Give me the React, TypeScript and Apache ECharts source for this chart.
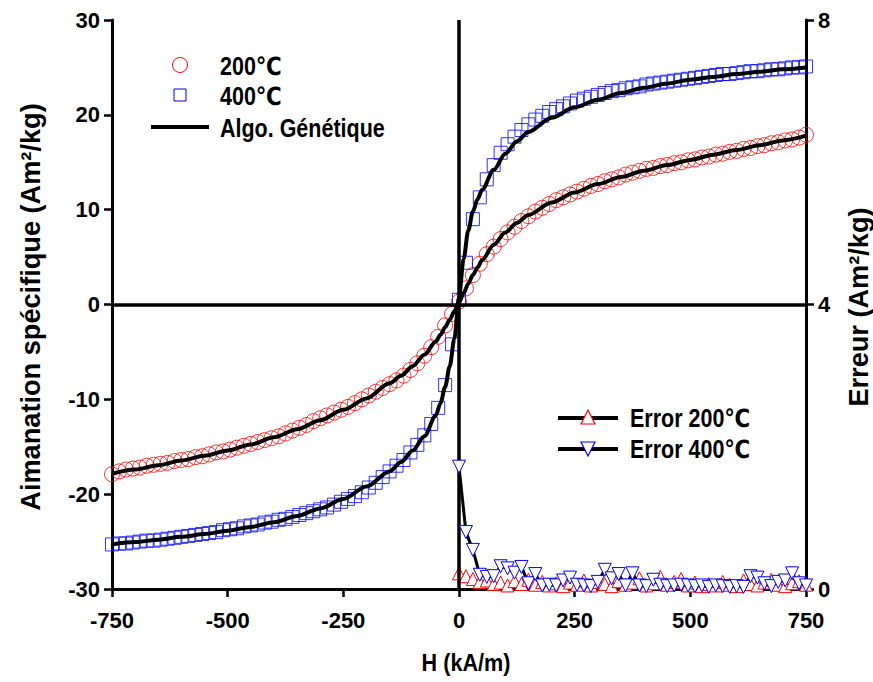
import React, { useEffect, useRef } from "react";
import * as echarts from "echarts";

const FONT = '"Liberation Sans", Arial, "DejaVu Sans", sans-serif';

// Field H (kA/m) for the measured loops
const fieldH = [
  -750, -735, -720, -705, -690, -675, -660, -645, -630, -615, -600, -585, -570, -555, -540, -525, -510,
  -495, -480, -465, -450, -435, -420, -405, -390, -375, -360, -345, -330, -315, -300, -285, -270, -255,
  -240, -225, -210, -195, -180, -165, -150, -135, -120, -105, -90, -75, -60, -45, -30, -15,
  0, 15, 30, 45, 60, 75, 90, 105, 120, 135, 150, 165, 180, 195, 210, 225, 240, 255, 270, 285, 300,
  315, 330, 345, 360, 375, 390, 405, 420, 435, 450, 465, 480, 495, 510, 525, 540, 555, 570, 585, 600,
  615, 630, 645, 660, 675, 690, 705, 720, 735, 750,
];

// Measured specific magnetization 200 °C (Am²/kg)
const m200 = [
  -17.9, -17.6, -17.4, -17.3, -17.2, -17.0, -16.9, -16.8, -16.7, -16.5, -16.4, -16.3, -16.1, -16.0, -15.8, -15.6, -15.5,
  -15.3, -15.1, -14.9, -14.7, -14.5, -14.3, -14.1, -13.9, -13.6, -13.3, -13.0, -12.7, -12.3, -12.0, -11.7, -11.4, -11.1,
  -10.8, -10.4, -10.0, -9.6, -9.2, -8.8, -8.4, -8.0, -7.5, -6.9, -6.2, -5.4, -4.5, -3.4, -2.2, -1.0,
  0.3, 1.7, 3.1, 4.3, 5.3, 6.1, 6.9, 7.6, 8.2, 8.8, 9.3, 9.8, 10.2, 10.6, 11.0, 11.3, 11.6, 11.9, 12.2, 12.5, 12.7,
  13.0, 13.2, 13.4, 13.7, 13.9, 14.1, 14.3, 14.4, 14.6, 14.7, 14.9, 15.0, 15.2, 15.3, 15.5, 15.6, 15.8, 15.9, 16.1, 16.2,
  16.4, 16.5, 16.7, 16.8, 17.0, 17.1, 17.3, 17.4, 17.6, 17.9,
];

// Measured specific magnetization 400 °C (Am²/kg)
const m400 = [
  -25.3, -25.2, -25.2, -25.1, -25.0, -24.9, -24.9, -24.8, -24.7, -24.6, -24.5, -24.4, -24.3, -24.2, -24.1, -24.0, -23.8,
  -23.7, -23.6, -23.4, -23.3, -23.2, -23.0, -22.9, -22.7, -22.6, -22.4, -22.2, -22.0, -21.8, -21.6, -21.4, -21.1, -20.8,
  -20.5, -20.2, -19.8, -19.3, -18.8, -18.2, -17.6, -17.0, -16.4, -15.6, -14.8, -13.8, -12.6, -10.9, -8.5, -4.2,
  0.5, 4.4, 9.0, 11.3, 13.2, 14.7, 16.0, 16.9, 17.7, 18.4, 19.0, 19.5, 19.9, 20.3, 20.6, 20.9, 21.2, 21.5, 21.7, 21.9, 22.1,
  22.3, 22.5, 22.6, 22.8, 22.9, 23.0, 23.2, 23.3, 23.4, 23.5, 23.6, 23.7, 23.8, 23.9, 24.0, 24.1, 24.2, 24.3, 24.3, 24.4,
  24.5, 24.6, 24.6, 24.7, 24.8, 24.8, 24.9, 25.0, 25.0, 25.1,
];

// Genetic-algorithm fitted curves
const fitH = [
  -750, -700, -650, -600, -550, -500, -450, -400, -350, -300, -250, -200, -150, -125, -100, -75, -50,
  -40, -30, -20, -10, 0, 10, 20, 30, 40, 50, 75, 100, 125, 150, 200, 250, 300, 350, 400, 450, 500,
  550, 600, 650, 700, 750,
];
const fit200 = [
  -17.85, -17.4, -16.95, -16.45, -15.95, -15.4, -14.75, -14.0, -13.15, -12.2, -11.1, -9.9, -8.3, -7.5, -6.5, -5.3, -3.9,
  -3.2, -2.4, -1.6, -0.7, 0.2, 1.2, 2.2, 3.1, 3.9, 4.7, 6.3, 7.6, 8.6, 9.45, 10.75, 11.8, 12.7, 13.45, 14.1, 14.7, 15.25,
  15.8, 16.3, 16.8, 17.3, 17.8,
];
const fit400 = [
  -25.3, -25.05, -24.8, -24.5, -24.2, -23.85, -23.45, -22.95, -22.3, -21.5, -20.5, -19.2, -17.6, -16.6, -15.4, -13.9, -11.7,
  -10.4, -8.7, -6.5, -3.6, 0.8, 4.8, 7.8, 9.8, 11.1, 12.1, 14.2, 15.9, 17.2, 18.2, 19.7, 20.8, 21.6, 22.3, 22.85, 23.3, 23.7,
  24.0, 24.3, 24.55, 24.8, 25.0,
];

// Fitting error (Am²/kg), right axis
const errH = [
  0, 15, 30, 45, 60, 75, 90, 105, 120, 135, 150, 165, 180, 195, 210, 225, 240, 255, 270, 285, 300,
  315, 330, 345, 360, 375, 390, 405, 420, 435, 450, 465, 480, 495, 510, 525, 540, 555, 570, 585, 600,
  615, 630, 645, 660, 675, 690, 705, 720, 735, 750,
];
const err200 = [
  0.22, 0.18, 0.14, 0.10, 0.12, 0.07, 0.09, 0.05, 0.11, 0.07, 0.13, 0.06, 0.10, 0.05, 0.08, 0.04, 0.09, 0.06, 0.12, 0.05, 0.10,
  0.07, 0.04, 0.11, 0.06, 0.09, 0.15, 0.05, 0.08, 0.17, 0.06, 0.10, 0.14, 0.05, 0.09, 0.04, 0.07, 0.05, 0.10, 0.06, 0.04,
  0.12, 0.07, 0.05, 0.09, 0.13, 0.06, 0.04, 0.08, 0.11, 0.06,
];
const err400 = [
  1.72, 0.80, 0.55, 0.20, 0.17, 0.18, 0.32, 0.29, 0.23, 0.31, 0.08, 0.21, 0.05, 0.06, 0.05, 0.12, 0.16, 0.06, 0.05, 0.04, 0.10,
  0.27, 0.15, 0.21, 0.05, 0.22, 0.05, 0.04, 0.13, 0.06, 0.04, 0.05, 0.06, 0.05, 0.04, 0.05, 0.03, 0.05, 0.04, 0.03, 0.04,
  0.03, 0.18, 0.16, 0.08, 0.04, 0.10, 0.12, 0.22, 0.08, 0.05,
];

const xTicks = { min: -750, max: 750, interval: 250 };
const yLeft = { min: -30, max: 30, interval: 10 };
const yRight = { min: 0, max: 8, interval: 4 };

const zip = (xs: number[], ys: number[]) => xs.map((x, i) => [x, ys[i]]);

export default function App() {
  const ref = useRef<HTMLDivElement>(null);
  useEffect(() => {
    if (!ref.current) return;
    const chart = echarts.init(ref.current, null, { renderer: "svg" });
    const axisText = { color: "#000", fontFamily: FONT, fontWeight: "bold" as const, fontSize: 22 };
    const axisLine = { onZero: false, lineStyle: { color: "#000", width: 3 } };
    const axisTick = { inside: false, length: 8, lineStyle: { color: "#000", width: 2.5 } };
    const legendText = (text: string, x: number, y: number) => ({
      type: "text", x, y, scaleX: 0.86,
      style: { text, fill: "#000", font: `bold 25px ${FONT}`, textAlign: "left", textVerticalAlign: "middle" },
    });
    chart.setOption({
      animation: false,
      backgroundColor: "#fff",
      grid: { left: 112, top: 20, width: 694, height: 569, containLabel: false },
      xAxis: {
        type: "value", ...xTicks,
        axisLine, axisTick,
        axisLabel: { ...axisText, margin: 20 },
        splitLine: { show: false },
      },
      yAxis: [
        {
          type: "value", position: "left", ...yLeft,
          axisLine, axisTick,
          axisLabel: { ...axisText, margin: 12 },
          splitLine: { show: false },
        },
        {
          type: "value", position: "right", ...yRight,
          axisLine, axisTick,
          axisLabel: { ...axisText, margin: 12 },
          splitLine: { show: false },
        },
      ],
      graphic: [
        { type: "circle", shape: { cx: 180, cy: 65, r: 7.5 }, style: { fill: "none", stroke: "#ff0000", lineWidth: 1 } },
        legendText("200℃", 220, 66),
        { type: "rect", shape: { x: 174, y: 89, width: 12, height: 12 }, style: { fill: "none", stroke: "#0000ff", lineWidth: 1 } },
        legendText("400℃", 220, 96),
        { type: "line", shape: { x1: 151, y1: 127, x2: 209, y2: 127 }, style: { stroke: "#000", lineWidth: 4 } },
        legendText("Algo. Génétique", 220, 128),
        { type: "line", shape: { x1: 558, y1: 418, x2: 618, y2: 418 }, style: { stroke: "#000", lineWidth: 4 } },
        { type: "polygon", shape: { points: [[588, 410], [581, 424], [595, 424]] }, style: { fill: "#fff", stroke: "#ff0000", lineWidth: 1.2 } },
        legendText("Error 200℃", 630, 418),
        { type: "line", shape: { x1: 558, y1: 449, x2: 618, y2: 449 }, style: { stroke: "#000", lineWidth: 4 } },
        { type: "polygon", shape: { points: [[581, 442], [595, 442], [588, 456]] }, style: { fill: "#fff", stroke: "#0000ff", lineWidth: 1.2 } },
        legendText("Error 400℃", 630, 449),
        {
          type: "text", x: 30, y: 307, rotation: Math.PI / 2, scaleX: 0.97,
          style: { text: "Aimanation spécifique (Am²/kg)", fill: "#000", font: `bold 28px ${FONT}`, textAlign: "center", textVerticalAlign: "middle" },
        },
        {
          type: "text", x: 858, y: 307, rotation: Math.PI / 2, scaleX: 0.97,
          style: { text: "Erreur (Am²/kg)", fill: "#000", font: `bold 28px ${FONT}`, textAlign: "center", textVerticalAlign: "middle" },
        },
        {
          type: "text", x: 466, y: 663, scaleX: 0.9,
          style: { text: "H (kA/m)", fill: "#000", font: `bold 24px ${FONT}`, textAlign: "center", textVerticalAlign: "middle" },
        },
      ],
      series: [
        {
          name: "200℃", type: "scatter", data: zip(fieldH, m200),
          symbol: "circle", symbolSize: 15,
          itemStyle: { color: "rgba(0,0,0,0)", borderColor: "#ff0000", borderWidth: 1 },
          z: 2,
        },
        {
          name: "400℃", type: "scatter", data: zip(fieldH, m400),
          symbol: "rect", symbolSize: 13,
          itemStyle: { color: "rgba(0,0,0,0)", borderColor: "#0000ff", borderWidth: 1 },
          z: 2,
        },
        {
          name: "Algo. Génétique", type: "line", data: zip(fitH, fit200),
          smooth: 0.3, smoothMonotone: "x", showSymbol: false, symbol: "none",
          lineStyle: { color: "#000", width: 4 }, z: 3,
          markLine: {
            silent: true, symbol: "none", label: { show: false },
            lineStyle: { color: "#000", width: 3.5, type: "solid" },
            data: [{ xAxis: 0 }, { yAxis: 0 }],
          },
        },
        {
          name: "Algo. Génétique", type: "line", data: zip(fitH, fit400),
          smooth: 0.3, smoothMonotone: "x", showSymbol: false, symbol: "none",
          lineStyle: { color: "#000", width: 4 }, z: 3,
        },
        {
          name: "Error 200℃", type: "line", yAxisIndex: 1, data: zip(errH, err200),
          symbol: "triangle", symbolSize: 13, showSymbol: true,
          lineStyle: { color: "#000", width: 2 },
          itemStyle: { color: "#fff", borderColor: "#ff0000", borderWidth: 1 },
          z: 4,
        },
        {
          name: "Error 400℃", type: "line", yAxisIndex: 1, data: zip(errH, err400),
          symbol: "triangle", symbolRotate: 180, symbolSize: 13, showSymbol: true,
          lineStyle: { color: "#000", width: 3 },
          itemStyle: { color: "#fff", borderColor: "#0000ff", borderWidth: 1 },
          z: 5,
        },
      ],
    });
    return () => chart.dispose();
  }, []);
  return <div ref={ref} style={{ position: "absolute", left: 0, top: 0, width: 873, height: 682 }} />;
}
